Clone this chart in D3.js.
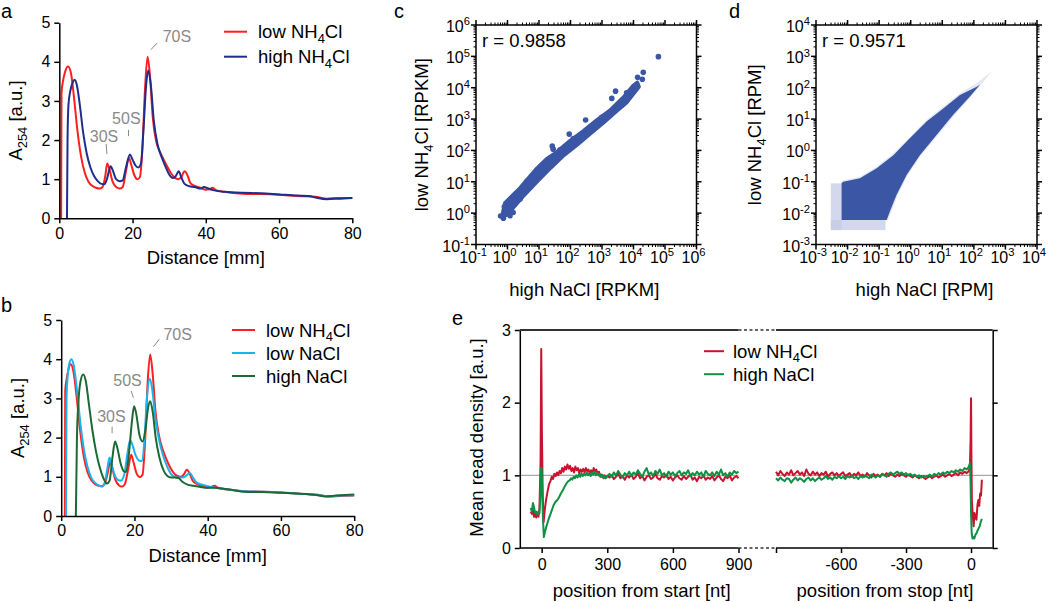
<!DOCTYPE html>
<html>
<head>
<meta charset="utf-8">
<script src="https://cdn.jsdelivr.net/npm/d3@7"></script>
<style>
  body { margin: 0; background: #fff; }
  text { font-family: "Liberation Sans", Arial, sans-serif; }
</style>
</head>
<body>
<svg id="fig" width="1050" height="602"></svg>
<script>
// ---------- panels a / b : A254 gradient profiles ----------
const distTicks = [0, 20, 40, 60, 80];
const absTicks = [0, 1, 2, 3, 4, 5];

const aLowNH4 = [[0.5,0],[0.6,3.2],[1.0,3.5],[1.6,3.75],[2.4,3.88],[3.2,3.7],[4.0,3.1],[5.0,2.2],[6.0,1.55],[7.0,1.15],[8.0,0.93],[9.0,0.83],[10.0,0.78],[11.0,0.76],[11.8,0.8],[12.5,1.05],[13.1,1.4],[13.7,1.25],[14.5,0.95],[15.5,0.8],[16.5,0.76],[17.3,0.8],[18.2,1.2],[19.0,1.55],[19.7,1.35],[20.5,1.1],[21.3,1.0],[22.0,1.05],[22.7,1.8],[23.4,3.3],[24.1,4.13],[24.8,3.6],[25.5,2.6],[26.5,1.95],[27.5,1.7],[28.5,1.5],[29.5,1.32],[30.5,1.15],[31.5,1.04],[32.5,1.0],[33.3,1.05],[34.2,1.2],[35.0,1.1],[35.8,0.9],[37,0.83],[38.5,0.78],[40,0.73],[41,0.74],[41.8,0.78],[42.8,0.72],[45,0.68],[50,0.63],[55,0.62],[60,0.6],[65,0.57],[70,0.55],[73,0.5],[76,0.52],[80,0.52]];
const aHighNH4 = [[2.1,0],[2.25,2.0],[2.5,2.9],[3.0,3.25],[3.7,3.48],[4.2,3.54],[4.8,3.4],[5.6,2.9],[6.5,2.2],[7.5,1.65],[8.5,1.3],[9.5,1.08],[10.5,0.95],[11.5,0.88],[12.3,0.87],[13.0,1.0],[14.0,1.33],[14.7,1.2],[15.5,1.0],[16.5,0.95],[17.3,0.97],[18.2,1.3],[19.3,1.63],[20.0,1.5],[20.8,1.35],[21.6,1.3],[22.3,1.4],[23.0,2.3],[23.7,3.4],[24.3,3.78],[25.0,3.4],[25.8,2.5],[26.8,1.9],[28,1.55],[29,1.32],[30,1.12],[31,1.03],[31.8,1.08],[32.6,1.2],[33.3,1.05],[34.2,0.88],[35.5,0.82],[37,0.8],[38.5,0.76],[39.5,0.8],[40.5,0.77],[42,0.72],[45,0.68],[50,0.65],[55,0.64],[60,0.61],[65,0.58],[68,0.57],[70,0.53],[73,0.49],[76,0.5],[80,0.52]];

const bLowNH4 = [[1.0,0],[1.1,3.2],[1.5,3.5],[2.0,3.75],[2.6,3.87],[3.4,3.65],[4.2,3.05],[5.2,2.15],[6.2,1.5],[7.2,1.12],[8.2,0.92],[9.2,0.82],[10.2,0.77],[11.0,0.76],[11.9,0.82],[12.7,1.1],[13.4,1.39],[14.0,1.2],[14.8,0.92],[15.8,0.78],[16.6,0.75],[17.4,0.82],[18.3,1.2],[19.1,1.56],[19.8,1.35],[20.6,1.08],[21.5,0.99],[22.2,1.05],[22.9,1.9],[23.6,3.4],[24.3,4.12],[25.0,3.6],[25.7,2.7],[26.7,2.05],[27.7,1.7],[28.7,1.45],[29.7,1.25],[30.7,1.1],[31.7,1.02],[32.7,1.0],[33.5,1.06],[34.3,1.18],[35.1,1.08],[35.9,0.9],[37,0.82],[38.5,0.77],[40,0.72],[41,0.74],[41.8,0.77],[42.8,0.72],[45,0.68],[50,0.63],[55,0.62],[60,0.6],[65,0.57],[70,0.54],[73,0.5],[76,0.51],[80,0.52]];
const bLowNaCl = [[1.3,0],[1.45,3.0],[1.8,3.6],[2.3,3.92],[2.8,4.0],[3.4,3.85],[4.2,3.3],[5.2,2.4],[6.2,1.7],[7.2,1.25],[8.2,0.98],[9.2,0.85],[10.2,0.78],[11.1,0.75],[11.9,0.85],[12.5,1.15],[13.2,1.49],[13.8,1.3],[14.7,1.02],[15.5,0.92],[16.3,0.9],[17.2,1.05],[18.1,1.6],[18.8,1.93],[19.5,1.8],[20.3,1.55],[21.2,1.42],[22.0,1.4],[22.7,1.9],[23.4,3.0],[24.2,3.5],[24.9,3.2],[25.7,2.5],[26.7,1.95],[27.8,1.55],[29,1.25],[30,1.07],[31,1.0],[32,0.98],[33,0.98],[34,1.02],[35.1,1.1],[36,0.98],[37,0.85],[38.5,0.8],[40,0.76],[42,0.72],[45,0.68],[50,0.63],[55,0.62],[60,0.6],[65,0.57],[70,0.54],[73,0.5],[76,0.52],[80,0.53]];
const bHighNaCl = [[4.0,0],[4.3,2.0],[4.7,2.9],[5.3,3.45],[6.0,3.61],[6.7,3.45],[7.5,2.9],[8.5,2.2],[9.5,1.65],[10.5,1.25],[11.5,0.97],[12.5,0.83],[13.2,0.9],[14.0,1.5],[14.7,1.9],[15.3,1.75],[16.2,1.35],[17.0,1.15],[17.7,1.12],[18.5,1.6],[19.3,2.4],[19.9,2.8],[20.5,2.6],[21.3,2.1],[22.2,1.9],[23.0,2.2],[23.7,2.75],[24.3,2.93],[25.0,2.65],[25.8,2.0],[26.8,1.5],[28,1.15],[29,1.02],[30,0.98],[31,0.98],[32,0.97],[33,0.88],[34.5,0.8],[36,0.77],[38,0.74],[40,0.72],[42,0.72],[44,0.7],[47,0.66],[50,0.62],[55,0.61],[60,0.59],[65,0.57],[70,0.53],[72,0.5],[75,0.52],[80,0.55]];

// peak labels: [text, labelX, labelBaselineY, leader x1, y1, x2, y2] in mm / A254
const aPeaks = [['30S',12.2,1.94,12.8,1.9,13.0,1.64],['50S',18.3,2.41,18.9,2.26,18.9,2.1],['70S',32.1,4.5,25.0,4.31,26.7,4.48]];
const bPeaks = [['30S',13.7,2.39,13.9,2.28,13.9,2.11],['50S',18.1,3.32,19.1,3.19,19.7,3.02],['70S',31.8,4.5,25.2,4.32,26.8,4.51]];

// ---------- panel c : RPKM correlation (log10 values) ----------
const cTicks = [-1, 0, 1, 2, 3, 4, 5, 6];
const cBandTopLog = [[-0.15,-0.02],[-0.08,0.32],[0.40,0.80],[0.93,1.42],[1.24,1.72],[1.56,1.94],[1.98,2.30],[2.41,2.62],[2.83,2.96],[3.25,3.27],[3.68,3.69],[3.99,4.06],[4.12,4.16]];
const cBandBottomLog = [[4.17,4.03],[3.79,3.54],[3.48,3.27],[3.05,2.89],[2.63,2.54],[2.22,2.19],[1.79,1.85],[1.37,1.45],[0.95,1.02],[0.52,0.57],[0.20,0.2],[-0.03,-0.06]];
const cDotsLog = [[4.79,4.99],[4.31,4.49],[4.28,4.27],[4.13,4.33],[3.43,3.89],[3.31,3.66],[2.48,2.97],[1.96,2.52],[2.22,2.28],[1.42,2.14],[1.45,2.04],[-0.22,-0.09],[-0.13,-0.16],[-0.03,0.05],[0.40,0.45],[0.71,0.92],[1.09,1.52],[1.35,1.75],[1.67,2.02],[2.09,2.38],[2.99,3.06],[3.78,3.84],[3.89,3.88],[3.63,3.46],[0.18,0.02],[0.08,-0.08],[0.3,0.62],[0.62,1.02],[-0.1,0.2]];

// ---------- panel d : RPM correlation (log10 values) ----------
const dTicks = [-3, -2, -1, 0, 1, 2, 3, 4];
const dCloudLog = [[-2.19,-2.22],[-2.19,-1.05],[-2.14,-1.0],[-1.61,-0.89],[-1.08,-0.57],[-0.55,-0.15],[-0.03,0.39],[0.5,0.92],[1.03,1.34],[1.56,1.77],[2.09,2.03],[2.2,2.1],[1.87,1.71],[1.34,1.13],[0.82,0.49],[0.29,-0.15],[-0.13,-0.78],[-0.45,-1.42],[-0.66,-1.95],[-0.76,-2.22]];
const dHaloLog = [[-2.19,-2.22],[-2.19,-0.97],[-1.6,-0.83],[-1.08,-0.52],[-0.55,-0.09],[0.0,0.45],[0.5,0.97],[1.03,1.4],[1.56,1.83],[2.1,2.15],[2.6,2.55],[2.25,2.12],[1.9,1.7],[1.37,1.1],[0.85,0.46],[0.32,-0.18],[-0.1,-0.8],[-0.42,-1.45],[-0.62,-1.98],[-0.72,-2.22]];
// floor bands (genes with no reads in one sample): [x0, x1, y0, y1]
const dFloorLog = [[-2.53,-2.19,-2.54,-1.05],[-2.53,-0.8,-2.54,-2.22]];

// ---------- panel e : metagene read density ----------
const densityTicks = [0, 1, 2, 3];
const startTicks = [0, 300, 600, 900];
const stopTicks = [-900, -600, -300, 0];

const startHeadLow = [[-50,0.50],[-45,0.47],[-40,0.52],[-35,0.43],[-30,0.48],[-25,0.42],[-20,0.47],[-15,0.43],[-10,0.55],[-5,1.2],[-2,2.74],[1,1.6],[5,0.7],[9,0.36],[14,0.52],[20,0.66],[27,0.78],[34,0.88],[40,0.92],[46,0.98],[52,0.95],[58,1.02],[64,0.99],[70,1.04],[76,1.0],[82,1.06],[88,1.03],[94,1.1],[100,1.05],[106,1.12],[112,1.08],[118,1.15],[124,1.09],[130,1.13],[136,1.06],[142,1.1],[148,1.04],[154,1.12],[160,1.07],[166,1.1],[172,1.03],[178,1.08],[184,1.05],[190,1.09],[196,1.04],[202,1.1],[208,1.06],[214,1.08],[220,1.02],[226,1.07],[232,1.03],[238,1.1],[244,1.05],[250,1.08],[256,1.02],[262,1.05],[268,0.98],[274,1.01],[280,0.97],[286,1.0],[292,0.96],[300,0.99]];
const startHeadHigh = [[-50,0.55],[-45,0.5],[-40,0.62],[-35,0.56],[-30,0.48],[-25,0.5],[-20,0.46],[-15,0.5],[-10,0.48],[-6,0.75],[-3,1.1],[0,1.1],[3,0.7],[6,0.4],[10,0.15],[15,0.22],[20,0.28],[26,0.34],[32,0.4],[38,0.45],[44,0.5],[50,0.55],[56,0.6],[62,0.63],[68,0.65],[74,0.67],[80,0.7],[86,0.74],[92,0.77],[98,0.8],[104,0.84],[110,0.87],[116,0.9],[122,0.92],[128,0.93],[134,0.96],[140,0.94],[146,0.98],[152,0.96],[158,1.0],[164,0.97],[170,1.01],[176,0.98],[182,1.03],[188,0.99],[194,1.02],[200,1.0],[206,1.04],[212,1.0],[218,1.03],[224,0.99],[230,1.04],[236,1.01],[242,1.05],[248,1.0],[254,1.03],[260,1.0],[266,1.02],[272,0.98],[278,1.0],[284,0.96],[290,0.99],[296,0.97],[300,0.99]];

const startBodyPos = d3.range(310, 901, 10);
const startBodyLow = [
  0.97,1.00,0.95,0.98,1.02,0.96,0.99,0.94,1.00,0.97,
  1.01,0.95,0.98,1.03,0.96,0.99,0.93,0.98,1.00,0.95,
  0.97,1.02,0.96,0.94,0.99,0.97,1.01,0.95,0.98,0.93,
  0.97,1.00,0.96,0.94,0.99,0.95,0.98,1.01,0.94,0.97,
  0.92,0.98,0.96,1.00,0.94,0.97,0.95,0.99,0.93,0.97,
  1.00,0.95,0.92,0.98,0.96,1.00,0.93,0.97,0.99,0.96];
const startBodyHigh = [
  1.02,0.98,1.04,1.00,1.06,1.01,0.97,1.03,1.00,1.05,
  0.99,1.04,1.01,1.07,1.02,0.98,1.05,1.10,1.01,1.04,
  0.99,1.06,1.02,1.08,1.00,1.03,0.98,1.05,1.01,1.04,
  0.99,1.03,1.06,1.00,1.04,1.02,1.07,0.99,1.03,1.00,
  1.05,1.01,1.04,0.98,1.06,1.02,1.00,1.04,0.99,1.05,
  1.01,1.08,1.00,1.03,0.98,1.04,1.01,1.06,1.03,1.05];

const stopBodyPos = d3.range(-900, -19, 10);
const stopBodyLow = [
  1.05,1.00,1.06,1.02,0.99,1.04,1.01,1.07,1.00,1.03,
  1.06,1.01,1.04,0.99,1.08,1.02,1.00,1.05,1.01,1.04,
  0.99,1.03,1.01,1.05,0.98,1.02,1.04,1.00,1.03,0.99,
  1.02,1.04,0.99,1.01,1.03,0.98,1.02,1.00,1.04,0.99,
  1.01,0.98,1.03,1.00,0.97,1.02,0.99,1.01,0.98,1.02,
  1.00,1.03,0.99,1.02,1.00,0.98,1.01,0.99,1.02,1.00,
  0.98,1.01,0.99,0.97,1.00,0.98,0.96,0.99,0.97,0.95,
  0.97,0.99,0.96,0.98,1.00,0.97,0.99,1.01,0.98,1.00,
  1.02,0.99,1.01,1.03,1.00,1.04,1.02,1.05,1.03];
const stopBodyHigh = [
  0.96,0.93,0.97,0.94,0.92,0.96,0.95,0.90,0.94,0.97,
  0.93,0.96,0.94,0.91,0.95,0.97,0.93,0.96,0.92,0.95,
  0.97,0.94,0.96,0.99,0.95,0.97,0.94,0.98,0.96,0.99,
  0.96,0.98,0.95,0.99,0.97,1.00,0.96,0.98,0.95,0.99,
  0.97,1.00,0.98,0.96,1.01,0.99,0.97,1.00,0.98,1.02,
  1.00,0.98,1.02,1.04,1.01,1.03,1.05,1.02,1.04,1.01,
  1.03,1.00,1.02,0.99,1.01,0.98,1.00,0.97,0.99,0.98,
  0.99,1.01,0.98,1.02,1.00,1.03,1.01,1.04,1.02,1.05,
  1.03,1.06,1.04,1.07,1.05,1.08,1.06,1.10,1.08];
const stopTailLow = [[-10,1.06],[-5,1.12],[-2,1.5],[0,2.06],[2,1.2],[4,0.65],[8,0.45],[12,0.3],[16,0.48],[20,0.42],[25,0.39],[30,0.6],[34,0.66],[38,0.58],[42,0.75],[46,0.72],[50,0.94]];
const stopTailHigh = [[-10,1.12],[-5,1.17],[-2,0.9],[0,0.5],[3,0.2],[7,0.13],[11,0.15],[15,0.13],[20,0.18],[25,0.2],[30,0.24],[35,0.27],[40,0.3],[45,0.36],[50,0.4]];

// ---------- drawing ----------
const FONT = '"Liberation Sans", Arial, sans-serif';
const svg = d3.select('#fig');
const pow10 = ([a, b]) => [Math.pow(10, a), Math.pow(10, b)];
const intFmt = d => String(d);   // plain hyphen for negatives, like the original

// text with sub / superscript pieces: parts are strings or [string, 'sub'|'sup']
function rich(parent, parts, size) {
  const t = parent.append('text').attr('font-size', size).attr('fill', '#000');
  let shift = 0;
  parts.forEach(p => {
    const s = typeof p === 'string' ? p : p[0];
    const kind = typeof p === 'string' ? null : p[1];
    const target = kind === 'sub' ? size * 0.25 : kind === 'sup' ? -size * 0.42 : 0;
    const ts = t.append('tspan').attr('dy', target - shift).text(s);
    if (kind) ts.attr('font-size', size * 0.7);
    shift = target;
  });
  return t;
}

function styleAxis(g) {
  g.attr('font-size', 16).attr('font-family', FONT);
  g.selectAll('.domain').attr('stroke', '#000').attr('stroke-width', 1.5);
  g.selectAll('.tick line').attr('stroke', '#000').attr('stroke-width', 1.5);
  g.selectAll('.tick text').attr('fill', '#000');
}

function panelLabel(txt, x, y) {
  svg.append('text').attr('x', x).attr('y', y).attr('font-size', 20).text(txt);
}

function profilePanel(cfg) {
  const x = d3.scaleLinear([0, 80], [cfg.left, cfg.right]);
  const y = d3.scaleLinear([0, 5], [cfg.bottom, cfg.top]);
  const g = svg.append('g');
  const line = d3.line().x(d => x(d[0])).y(d => y(d[1])).curve(d3.curveMonotoneX);

  cfg.series.forEach(s => {
    g.append('path').datum(s.data).attr('d', line)
      .attr('fill', 'none').attr('stroke', s.color).attr('stroke-width', 2);
  });

  g.append('g').attr('transform', `translate(0,${cfg.bottom})`)
    .call(d3.axisBottom(x).tickValues(distTicks).tickFormat(intFmt).tickSize(5).tickSizeOuter(0).tickPadding(4))
    .call(styleAxis);
  g.append('g').attr('transform', `translate(${cfg.left},0)`)
    .call(d3.axisLeft(y).tickValues(absTicks).tickFormat(intFmt).tickSize(5).tickSizeOuter(0).tickPadding(4))
    .call(styleAxis);

  // peak annotations
  cfg.peaks.forEach(p => {
    g.append('text').attr('x', x(p[1])).attr('y', y(p[2])).attr('text-anchor', 'middle')
      .attr('font-size', 16).attr('fill', '#8a8a8a').text(p[0]);
    g.append('line').attr('x1', x(p[3])).attr('y1', y(p[4])).attr('x2', x(p[5])).attr('y2', y(p[6]))
      .attr('stroke', '#8a8a8a').attr('stroke-width', 1);
  });

  g.append('text').attr('x', (cfg.left + cfg.right) / 2).attr('y', cfg.bottom + 46)
    .attr('text-anchor', 'middle').attr('font-size', 18.5).text('Distance [mm]');
  rich(g, ['A', ['254', 'sub'], ' [a.u.]'], 18.5)
    .attr('text-anchor', 'middle')
    .attr('transform', `translate(${cfg.left - 37},${(cfg.top + cfg.bottom) / 2}) rotate(-90)`);

  // legend
  cfg.series.forEach((s, i) => {
    const ly = cfg.legY + i * cfg.legStep;
    g.append('line').attr('x1', cfg.legX).attr('x2', cfg.legX + 23).attr('y1', ly).attr('y2', ly)
      .attr('stroke', s.color).attr('stroke-width', 2);
    rich(g, s.label, 18.5).attr('x', cfg.legX + 34).attr('y', ly + 6.5);
  });
}

const lowNH4Label = ['low NH', ['4', 'sub'], 'Cl'];

profilePanel({
  left: 59.3, right: 352.3, top: 22.7, bottom: 218.3,
  legX: 224, legY: 31.7, legStep: 25,
  peaks: aPeaks,
  series: [
    { data: aLowNH4, color: '#ff1f1f', label: lowNH4Label },
    { data: aHighNH4, color: '#1f2d8c', label: ['high NH', ['4', 'sub'], 'Cl'] }
  ]
});
profilePanel({
  left: 61.2, right: 354.2, top: 320, bottom: 516,
  legX: 232, legY: 330, legStep: 23,
  peaks: bPeaks,
  series: [
    { data: bLowNH4, color: '#ff1f1f', label: lowNH4Label },
    { data: bLowNaCl, color: '#1cb2ee', label: ['low NaCl'] },
    { data: bHighNaCl, color: '#1b6a35', label: ['high NaCl'] }
  ]
});

// log-log frame with ticks on all four sides
function logFrame(g, x, y, ticks) {
  const [x0, x1] = x.range(), [y0, y1] = y.range();
  const minors = [];
  ticks.slice(0, -1).forEach(e => { for (let m = 2; m < 10; m++) minors.push(m * Math.pow(10, e)); });
  const majors = ticks.map(e => Math.pow(10, e));
  const tk = g.append('g').attr('stroke', '#000');
  [[majors, 5, 1.5], [minors, 2.5, 1]].forEach(([vals, len, w]) => {
    vals.forEach(v => {
      tk.append('line').attr('x1', x(v)).attr('x2', x(v)).attr('y1', y0).attr('y2', y0 + len).attr('stroke-width', w);
      tk.append('line').attr('x1', x(v)).attr('x2', x(v)).attr('y1', y1).attr('y2', y1 - len).attr('stroke-width', w);
      tk.append('line').attr('y1', y(v)).attr('y2', y(v)).attr('x1', x0).attr('x2', x0 - len).attr('stroke-width', w);
      tk.append('line').attr('y1', y(v)).attr('y2', y(v)).attr('x1', x1).attr('x2', x1 + len).attr('stroke-width', w);
    });
  });
  g.append('rect').attr('x', x0).attr('y', y1).attr('width', x1 - x0).attr('height', y0 - y1)
    .attr('fill', 'none').attr('stroke', '#000').attr('stroke-width', 1.5);
  ticks.forEach(e => {
    const exp = e < 0 ? '-' + Math.abs(e) : String(e);
    rich(g, ['10', [exp, 'sup']], 16).attr('x', x(Math.pow(10, e)) - 3).attr('y', y0 + 18)
      .attr('text-anchor', 'middle');
    rich(g, ['10', [exp, 'sup']], 16).attr('x', x0 - 6).attr('y', y(Math.pow(10, e)) + 7)
      .attr('text-anchor', 'end');
  });
}

function scatterTitles(g, x, y, r, xTitle, yTitle, yTitleX) {
  const [x0, x1] = x.range(), [y0, y1] = y.range();
  g.append('text').attr('x', x0 + 6).attr('y', y1 + 22).attr('font-size', 18.5).text(r);
  rich(g, xTitle, 18.5).attr('text-anchor', 'middle').attr('x', (x0 + x1) / 2 - 2).attr('y', 296);
  rich(g, yTitle, 18.5).attr('text-anchor', 'middle')
    .attr('transform', `translate(${yTitleX},${(y0 + y1) / 2}) rotate(-90)`);
}

const DOT = '#3a56a5';

// panel c
{
  const g = svg.append('g');
  const x = d3.scaleLog([0.1, 1e6], [476, 696.5]);
  const y = d3.scaleLog([0.1, 1e6], [244.5, 25]);
  const band = cBandTopLog.concat(cBandBottomLog).map(pow10);
  g.append('path').datum(band)
    .attr('d', d3.line().x(d => x(d[0])).y(d => y(d[1])).curve(d3.curveLinearClosed))
    .attr('fill', DOT).attr('stroke', DOT).attr('stroke-width', 4).attr('stroke-linejoin', 'round');
  g.selectAll('circle').data(cDotsLog.map(pow10)).join('circle')
    .attr('cx', d => x(d[0])).attr('cy', d => y(d[1])).attr('r', 2.8).attr('fill', DOT);
  logFrame(g, x, y, cTicks);
  scatterTitles(g, x, y, 'r = 0.9858', ['high NaCl [RPKM]'], ['low NH', ['4', 'sub'], 'Cl [RPKM]'], 428);
}

// panel d
{
  const g = svg.append('g');
  const x = d3.scaleLog([1e-3, 1e4], [816, 1037]);
  const y = d3.scaleLog([1e-3, 1e4], [244.5, 25]);
  const poly = d3.line().x(d => x(d[0])).y(d => y(d[1])).curve(d3.curveLinearClosed);
  dFloorLog.forEach(([a, b, c, d]) => {
    const [xa, yc] = pow10([a, c]), [xb, yd] = pow10([b, d]);
    g.append('rect').attr('x', x(xa)).attr('width', x(xb) - x(xa))
      .attr('y', y(yd)).attr('height', y(yc) - y(yd))
      .attr('fill', '#c4cbe5').attr('opacity', 0.75);
  });
  g.append('path').datum(dHaloLog.map(pow10)).attr('d', poly).attr('fill', DOT).attr('opacity', 0.13);
  g.append('path').datum(dCloudLog.map(pow10)).attr('d', poly).attr('fill', DOT);
  logFrame(g, x, y, dTicks);
  scatterTitles(g, x, y, 'r = 0.9571', ['high NaCl [RPM]'], ['low NH', ['4', 'sub'], 'Cl [RPM]'], 761);
}

// panel e
{
  const g = svg.append('g');
  const y = d3.scaleLinear([0, 3], [548, 330]);
  const xs = d3.scaleLinear([-100, 900], [519.8, 738.5]);
  const xe = d3.scaleLinear([-900, 100], [776, 992.7]);
  const RED = '#c8132f', GREEN = '#0f9143';

  [[519.8, 738.5], [776, 992.7]].forEach(([a, b]) => {
    g.append('line').attr('x1', a).attr('x2', b).attr('y1', y(1)).attr('y2', y(1))
      .attr('stroke', '#a8a8a8').attr('stroke-width', 1.3);
  });

  const startLow = startHeadLow.concat(startBodyPos.map((p, i) => [p, startBodyLow[i]]));
  const startHigh = startHeadHigh.concat(startBodyPos.map((p, i) => [p, startBodyHigh[i]]));
  const stopLow = stopBodyPos.map((p, i) => [p, stopBodyLow[i]]).concat(stopTailLow);
  const stopHigh = stopBodyPos.map((p, i) => [p, stopBodyHigh[i]]).concat(stopTailHigh);

  [[xs, startLow, RED], [xe, stopLow, RED], [xs, startHigh, GREEN], [xe, stopHigh, GREEN]].forEach(([sc, data, col]) => {
    g.append('path').datum(data)
      .attr('d', d3.line().x(d => sc(d[0])).y(d => y(d[1])))
      .attr('fill', 'none').attr('stroke', col).attr('stroke-width', 2).attr('stroke-linejoin', 'round');
  });

  g.append('g').attr('transform', 'translate(0,548)')
    .call(d3.axisBottom(xs).tickValues(startTicks).tickFormat(intFmt).tickSize(5).tickSizeOuter(0).tickPadding(6))
    .call(styleAxis)
    .select('.domain').attr('d', 'M519.8,0H738.5');
  g.append('g').attr('transform', 'translate(0,548)')
    .call(d3.axisBottom(xe).tickValues(stopTicks).tickSize(5).tickSizeOuter(0).tickPadding(6)
      .tickFormat(d => d === -900 ? '' : intFmt(d)))
    .call(styleAxis)
    .select('.domain').attr('d', 'M776,0H992.7');
  g.append('g').attr('transform', 'translate(519.8,0)')
    .call(d3.axisLeft(y).tickValues(densityTicks).tickFormat(intFmt).tickSize(5).tickSizeOuter(0).tickPadding(4))
    .call(styleAxis);
  g.append('g').attr('transform', 'translate(992.7,0)')
    .call(d3.axisRight(y).tickValues(densityTicks).tickSize(5).tickSizeOuter(0).tickFormat(''))
    .call(styleAxis);

  // top frame and axis breaks
  g.append('line').attr('x1', 519.8).attr('x2', 738.5).attr('y1', 330).attr('y2', 330).attr('stroke', '#333').attr('stroke-width', 2);
  g.append('line').attr('x1', 776).attr('x2', 992.7).attr('y1', 330).attr('y2', 330).attr('stroke', '#333').attr('stroke-width', 2);
  [330, 548].forEach(yy => {
    g.append('line').attr('x1', 738.5).attr('x2', 776).attr('y1', yy).attr('y2', yy)
      .attr('stroke', '#333').attr('stroke-width', 1.5).attr('stroke-dasharray', '3,2.5');
  });

  g.append('text').attr('x', 641.7).attr('y', 597).attr('text-anchor', 'middle').attr('font-size', 18.5).text('position from start [nt]');
  g.append('text').attr('x', 885).attr('y', 597).attr('text-anchor', 'middle').attr('font-size', 18.5).text('position from stop [nt]');
  g.append('text').attr('text-anchor', 'middle').attr('font-size', 18.5)
    .attr('transform', 'translate(483,437.5) rotate(-90)').text('Mean read density [a.u.]');

  [[RED, lowNH4Label], [GREEN, ['high NaCl']]].forEach(([col, lab], i) => {
    const ly = 351.2 + i * 23;
    g.append('line').attr('x1', 704).attr('x2', 724).attr('y1', ly).attr('y2', ly).attr('stroke', col).attr('stroke-width', 2);
    rich(g, lab, 18.5).attr('x', 733).attr('y', ly + 6.5);
  });
}

panelLabel('a', 1, 18);
panelLabel('b', 1, 312);
panelLabel('c', 394, 18);
panelLabel('d', 729, 18);
panelLabel('e', 452, 325);
</script>
</body>
</html>
